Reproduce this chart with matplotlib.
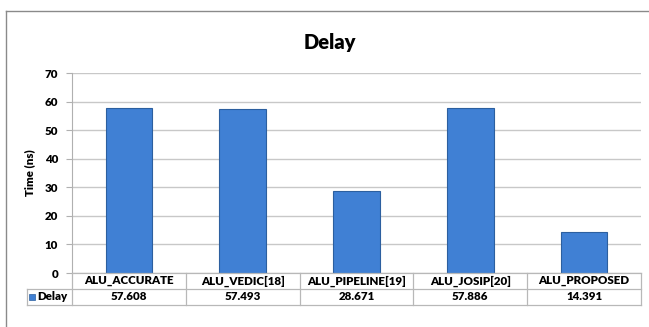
import matplotlib
matplotlib.use("Agg")
import matplotlib.pyplot as plt
from matplotlib.patches import Rectangle
from matplotlib.lines import Line2D

plt.rcParams['font.family'] = ['Lato', 'DejaVu Sans']

# Data
categories = ['ALU_ACCURATE', 'ALU_VEDIC[18]', 'ALU_PIPELINE[19]', 'ALU_JOSIP[20]', 'ALU_PROPOSED']
delay = [57.608, 57.493, 28.671, 57.886, 14.391]
delay_labels = ['57.608', '57.493', '28.671', '57.886', '14.391']
yticks = [0, 10, 20, 30, 40, 50, 60, 70]

W, H = 649, 327
fig = plt.figure(figsize=(W / 100, H / 100), dpi=100)

def fx(px):
    return px / W

def fy(py):
    return 1 - py / H

# pixel layout
ax_l, ax_r, ax_t, ax_b = 72, 641, 73, 273
row1_b, row2_b, tab_l = 289, 305, 27
fs = 8.3
wt = 'heavy'

ax = fig.add_axes([fx(ax_l), fy(ax_b), fx(ax_r - ax_l), (ax_b - ax_t) / H])
x = range(len(categories))
ax.bar(x, delay, width=0.41, color='#4080d4', edgecolor='#2c5f9f', linewidth=0.8, zorder=3)
ax.set_xlim(-0.5, len(categories) - 0.5)
ax.set_ylim(0, 70)
ax.set_yticks(yticks)
ax.set_yticklabels([str(t) for t in yticks], fontsize=fs, fontweight=wt)
ax.set_xticks([])
ax.yaxis.grid(True, color='#c8c8c8', linewidth=1)
ax.set_axisbelow(True)
ax.tick_params(axis='y', length=4, color='#b0b0b0', pad=6)
for s in ['top', 'right', 'bottom']:
    ax.spines[s].set_visible(False)
ax.spines['left'].set_color('#b0b0b0')
ax.set_ylabel('Time (ns)', fontsize=fs, fontweight=wt, labelpad=7)

fig.suptitle('Delay', x=fx(330), y=fy(42), va='center', fontsize=14.5, fontweight=wt)

# outer chart frame
frame = '#8a8a8a'
fig.add_artist(Line2D([fx(6), fx(6)], [fy(11), 0], color=frame, lw=1, transform=fig.transFigure))
fig.add_artist(Line2D([fx(6), 1], [fy(11), fy(11)], color=frame, lw=1, transform=fig.transFigure))

# data table
grid = '#b8b8b8'
def hline(x0, x1, y):
    fig.add_artist(Line2D([fx(x0), fx(x1)], [fy(y), fy(y)], color=grid, lw=0.9, transform=fig.transFigure))

def vline(xp, y0, y1):
    fig.add_artist(Line2D([fx(xp), fx(xp)], [fy(y0), fy(y1)], color=grid, lw=0.9, transform=fig.transFigure))

hline(ax_l, ax_r, ax_b)
hline(tab_l, ax_r, row1_b)
hline(tab_l, ax_r, row2_b)
vline(tab_l, row1_b, row2_b)
cw = (ax_r - ax_l) / len(categories)
for i in range(len(categories) + 1):
    vline(ax_l + i * cw, ax_b, row2_b)
for i, (c, v) in enumerate(zip(categories, delay_labels)):
    cx = ax_l + (i + 0.5) * cw
    fig.text(fx(cx), fy((ax_b + row1_b) / 2), c, ha='center', va='center', fontsize=fs, fontweight=wt)
    fig.text(fx(cx), fy((row1_b + row2_b) / 2), v, ha='center', va='center', fontsize=fs, fontweight=wt)

fig.add_artist(Rectangle((fx(29), fy(300)), fx(6), 6 / H, facecolor='#4080d4',
                         edgecolor='#2c5f9f', lw=0.5, transform=fig.transFigure))
fig.text(fx(37), fy((row1_b + row2_b) / 2), 'Delay', ha='left', va='center', fontsize=fs, fontweight=wt)

fig.savefig('out.png', dpi=100, facecolor='white')
